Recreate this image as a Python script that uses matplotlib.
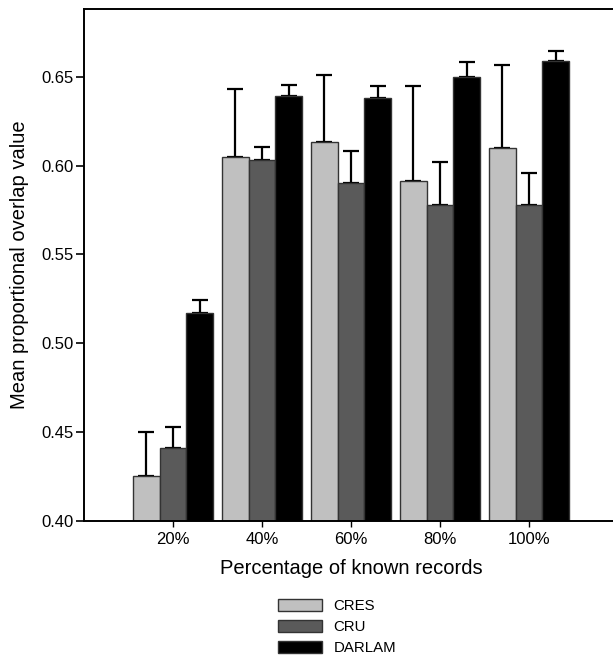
import matplotlib
matplotlib.use("Agg")
import matplotlib.pyplot as plt
import numpy as np

plt.rcParams['font.family'] = ['Liberation Sans', 'DejaVu Sans']

categories = ["20%", "40%", "60%", "80%", "100%"]
series_names = ["CRES", "CRU", "DARLAM"]
cres = [0.425, 0.605, 0.613, 0.591, 0.610]
cru = [0.441, 0.603, 0.590, 0.578, 0.578]
darlam = [0.517, 0.639, 0.638, 0.650, 0.659]
cres_err = [0.025, 0.038, 0.038, 0.0535, 0.0465]
cru_err = [0.0115, 0.0072, 0.0182, 0.0237, 0.018]
darlam_err = [0.007, 0.0066, 0.0066, 0.0085, 0.0052]
colors = ["#c0c0c0", "#5a5a5a", "#000000"]
yticks = [0.40, 0.45, 0.50, 0.55, 0.60, 0.65]

W, H = 613, 656
fig = plt.figure(figsize=(W / 100, H / 100), dpi=100)
left_px, right_px, top_px, bottom_px = 84, 618, 9, 520.7
ax = fig.add_axes([left_px / W, 1 - bottom_px / H, (right_px - left_px) / W, (bottom_px - top_px) / H])

x = np.arange(1, len(categories) + 1)
w = 0.3
vals = [cres, cru, darlam]
errs = [cres_err, cru_err, darlam_err]
for i, (v, e, c, n) in enumerate(zip(vals, errs, colors, series_names)):
    pos = x + (i - 1) * w
    ax.bar(pos, v, width=w, color=c, edgecolor="#333333", linewidth=1.0, label=n, zorder=2)
    ax.errorbar(pos, v, yerr=[np.zeros(len(e)), e], fmt="none", ecolor="black",
                elinewidth=1.6, capsize=6, capthick=1.6, zorder=1)

ax.set_xlim(0, 6)
ax.set_ylim(0.40, 0.40 + (bottom_px - top_px) / 1776)
ax.set_xticks(x)
ax.set_xticklabels(categories, fontsize=12)
ax.set_yticks(yticks)
ax.set_yticklabels([f"{t:.2f}" for t in yticks], fontsize=12)
ax.tick_params(axis='y', direction='out', length=6, width=1.2, pad=1.5)
ax.tick_params(axis='x', direction='out', length=4, width=1.0, pad=4)
for s in ax.spines.values():
    s.set_linewidth(1.4)
ax.spines['right'].set_visible(False)
ax.set_xlabel("Percentage of known records", fontsize=14.5, labelpad=9)
ax.set_ylabel("Mean proportional overlap value", fontsize=14.5, labelpad=9)

handles, labels = ax.get_legend_handles_labels()
fig.legend(handles, labels, loc="center", bbox_to_anchor=(0.55, 0.044), frameon=False,
           fontsize=10.8, handlelength=2.9, handleheight=0.85, labelspacing=0.45,
           handletextpad=0.8)

fig.savefig("out.png", dpi=100)
